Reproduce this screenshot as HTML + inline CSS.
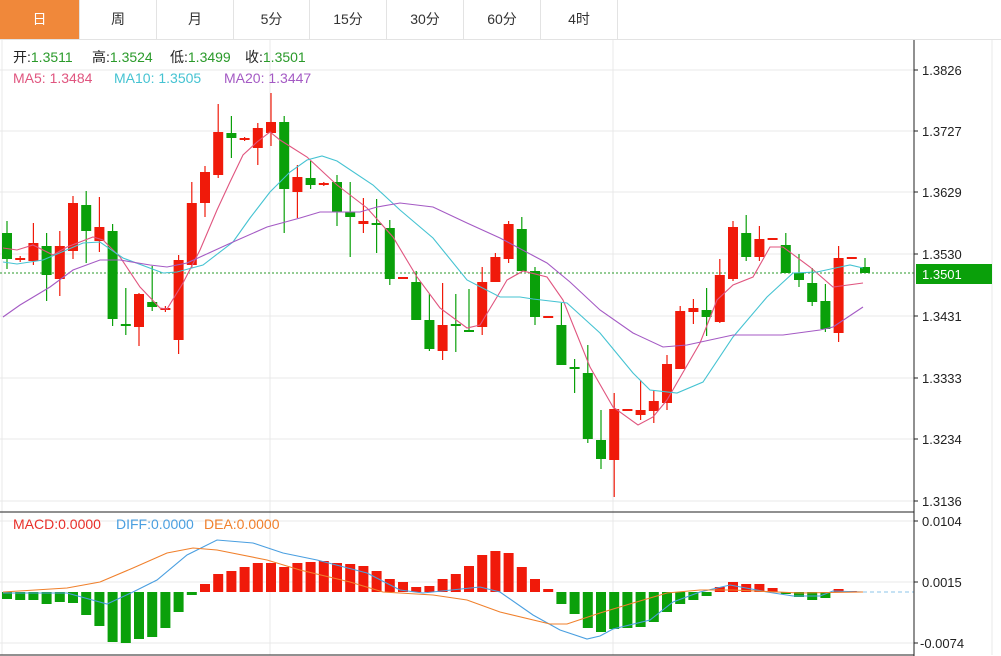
<!DOCTYPE html>
<html><head><meta charset="utf-8"><style>
body{margin:0;background:#fff;width:1001px;height:656px;overflow:hidden;font-family:"Liberation Sans","Noto Sans CJK SC",sans-serif}
.tabs{position:absolute;left:0;top:0;height:39px;width:1001px;border-bottom:1px solid #e3e3e3}
.tab{position:absolute;top:0;height:39px;line-height:39px;text-align:center;font-size:14px;color:#333;border-right:1px solid #e3e3e3;box-sizing:border-box}
</style></head><body>
<div class="tabs">
<div class="tab" style="left:0;width:80px;background:#f0883a;color:#fff">日</div>
<div class="tab" style="left:80px;width:77px">周</div>
<div class="tab" style="left:157px;width:77px">月</div>
<div class="tab" style="left:234px;width:76px">5分</div>
<div class="tab" style="left:310px;width:77px">15分</div>
<div class="tab" style="left:387px;width:77px">30分</div>
<div class="tab" style="left:464px;width:77px">60分</div>
<div class="tab" style="left:541px;width:77px">4时</div>
</div>
<svg id="s" width="1001" height="656" style="position:absolute;left:0;top:0" xmlns="http://www.w3.org/2000/svg" font-family="Liberation Sans, Noto Sans CJK SC, sans-serif">
<g stroke="#e8e8e8" stroke-width="1">
<line x1="0" y1="70" x2="914" y2="70"/><line x1="0" y1="131" x2="914" y2="131"/><line x1="0" y1="192" x2="914" y2="192"/><line x1="0" y1="254" x2="914" y2="254"/><line x1="0" y1="316" x2="914" y2="316"/><line x1="0" y1="378" x2="914" y2="378"/><line x1="0" y1="439" x2="914" y2="439"/><line x1="0" y1="501" x2="914" y2="501"/>
<line x1="0" y1="521" x2="914" y2="521"/><line x1="0" y1="582" x2="914" y2="582"/><line x1="0" y1="643" x2="914" y2="643"/>
<line x1="270" y1="40" x2="270" y2="655"/><line x1="613" y1="40" x2="613" y2="655"/>
<line x1="2" y1="40" x2="2" y2="655"/><line x1="992" y1="40" x2="992" y2="655"/>
</g>
<line x1="0" y1="273" x2="914" y2="273" stroke="#2a9a2a" stroke-dasharray="2,2"/>
<g id="cand"></g>
<g id="bars"></g>
<g fill="none" stroke-width="1.1">
<polyline stroke="#e0557f" points="3,248 17,250 33,245 53,255 67,247 93,237 103,240 120,257 140,287 160,308 167,309 183,283 200,250 217,210 230,182 243,155 257,142 270,132 280,140 307,157 323,172 337,185 367,208 393,237 417,277 440,308 467,328 480,325 500,292 507,280 523,271 547,277 563,300 590,367 613,407 638,425 653,417 667,400 700,343 717,300 733,285 753,277 770,247 783,247 810,267 833,287 863,283"/>
<polyline stroke="#45c3d2" points="3,262 17,264 43,260 83,243 100,242 123,258 163,273 177,272 203,265 233,242 250,218 270,192 290,172 307,160 322,156 337,161 373,185 400,210 433,238 467,280 500,297 520,297 533,299 567,303 600,333 633,373 650,390 677,393 703,382 733,337 767,297 793,273 817,272 840,267 850,265 863,268"/>
<polyline stroke="#a45ac4" points="3,317 20,305 50,287 73,270 100,260 120,260 150,265 167,267 187,263 233,242 267,227 300,218 320,212 360,212 377,207 400,203 433,207 467,223 500,238 547,263 570,282 600,310 633,333 663,347 687,345 733,335 783,335 820,330 833,327 863,307"/>
<polyline stroke="#4a9fe0" points="3,593 67,593 107,604 133,592 157,580 187,555 217,540 253,543 283,553 317,560 367,573 400,590 423,593 480,587 500,592 533,615 560,630 587,639 600,636 613,629 650,620 673,602 700,592 730,585 767,592 793,596 820,596 833,591 863,592"/>
<polyline stroke="#f0802c" points="3,592 67,588 100,582 133,568 167,553 193,548 217,550 267,560 300,570 350,582 383,592 433,595 467,600 500,612 550,624 567,624 600,613 633,603 667,593 700,590 733,590 800,593 863,592"/>
</g>
<line x1="863" y1="592" x2="914" y2="592" stroke="#8ec4e8" stroke-dasharray="4,3"/>
<line x1="0" y1="512" x2="914" y2="512" stroke="#222"/>
<line x1="0" y1="655" x2="914" y2="655" stroke="#222"/>
<line x1="914" y1="40" x2="914" y2="656" stroke="#222"/>
<g stroke="#222"><line x1="914" y1="70" x2="918" y2="70"/><line x1="914" y1="131" x2="918" y2="131"/><line x1="914" y1="192" x2="918" y2="192"/><line x1="914" y1="254" x2="918" y2="254"/><line x1="914" y1="316" x2="918" y2="316"/><line x1="914" y1="378" x2="918" y2="378"/><line x1="914" y1="439" x2="918" y2="439"/><line x1="914" y1="501" x2="918" y2="501"/><line x1="914" y1="521" x2="918" y2="521"/><line x1="914" y1="582" x2="918" y2="582"/><line x1="914" y1="643" x2="918" y2="643"/></g>
<g font-size="13" fill="#222">
<text x="922" y="75">1.3826</text><text x="922" y="136">1.3727</text><text x="922" y="197">1.3629</text><text x="922" y="259">1.3530</text><text x="922" y="321">1.3431</text><text x="922" y="383">1.3333</text><text x="922" y="444">1.3234</text><text x="922" y="506">1.3136</text>
<text x="922" y="526">0.0104</text><text x="922" y="587">0.0015</text><text x="920" y="648">-0.0074</text>
</g>
<rect x="916" y="264" width="76" height="20" fill="#0aa00a"/>
<text x="922" y="279" font-size="13" fill="#fff">1.3501</text>
<g font-size="14">
<text x="13" y="62" fill="#222">开:<tspan fill="#2a9a2a">1.3511</tspan></text>
<text x="92" y="62" fill="#222">高:<tspan fill="#2a9a2a">1.3524</tspan></text>
<text x="170" y="62" fill="#222">低:<tspan fill="#2a9a2a">1.3499</tspan></text>
<text x="245" y="62" fill="#222">收:<tspan fill="#2a9a2a">1.3501</tspan></text>
<text x="13" y="83" fill="#e0557f">MA5: 1.3484</text><text x="114" y="83" fill="#45c3d2">MA10: 1.3505</text><text x="224" y="83" fill="#a45ac4">MA20: 1.3447</text>
<text x="13" y="529" fill="#e8302a">MACD:0.0000</text><text x="116" y="529" fill="#4a9fe0">DIFF:0.0000</text><text x="204" y="529" fill="#f0802c">DEA:0.0000</text>
</g>
</svg>
<script>
var C=[['g',233,259,221,269],['r',258,260,256,262],['r',243,261,223,265],['g',246,275,233,301],['r',246,279,231,296],['r',203,251,196,259],['g',205,231,191,263],['r',227,241,197,252],['g',231,319,224,326],['g',324,326,288,335],['r',294,327,293,346],['g',302,307,266,311],['r',308,310,306,312],['r',260,340,255,354],['r',203,265,182,268],['r',172,203,166,217],['r',132,175,104,178],['g',133,138,116,158],['r',138,140,137,141],['r',128,148,123,165],['r',122,133,93,146],['g',122,189,116,233],['r',177,192,165,218],['g',178,185,161,189],['r',183,185,182,186],['g',182,212,175,226],['g',212,217,182,257],['r',221,224,198,233],['g',223,225,199,253],['g',228,279,220,285],['r',277,279,277,279],['g',282,320,271,320],['g',320,349,294,351],['r',325,351,283,360],['g',324,326,294,352],['g',330,332,289,332],['r',282,327,267,335],['r',257,282,253,282],['r',224,259,221,263],['g',229,271,217,271],['g',271,317,267,325],['r',316,318,316,318],['g',325,365,303,365],['g',367,369,359,393],['g',373,439,345,443],['g',440,459,410,469],['r',409,460,393,497],['r',409,411,409,411],['r',410,415,380,420],['r',401,411,390,423],['r',364,403,355,410],['r',311,369,306,369],['r',308,312,299,324],['g',310,317,288,336],['r',275,322,259,323],['r',227,279,221,281],['g',233,257,215,261],['r',239,257,226,261],['r',238,240,238,240],['g',245,273,233,273],['g',273,280,254,287],['g',283,302,268,306],['g',301,329,284,332],['r',258,333,246,342],['r',257,259,257,259],['g',267,273,258,273]];
var B=[599,600,600,604,602,603,615,626,642,643,639,637,628,612,595,584,574,571,567,563,563,567,563,562,561,563,564,566,571,579,582,587,586,579,574,566,555,551,553,567,579,589,604,614,628,632,629,628,627,622,612,604,600,596,587,582,584,584,588,594,597,600,598,589,591];
var s="";
C.forEach(function(c,i){var x=7+i*13.2,col=c[0]=='r'?'#f01a0a':'#0aa00a';
s+='<line x1="'+x+'" y1="'+c[3]+'" x2="'+x+'" y2="'+c[4]+'" stroke="'+col+'" stroke-width="1.2"/>';
var h=Math.max(2,c[2]-c[1]);s+='<rect x="'+(x-5)+'" y="'+c[1]+'" width="10" height="'+h+'" fill="'+col+'"/>';});
document.getElementById('cand').innerHTML=s;s="";
B.forEach(function(v,i){var x=7+i*13.2,up=v<592,col=up?'#f01a0a':'#0aa00a';var y=up?v:592,h=Math.abs(v-592);if(h<1)h=1;
s+='<rect x="'+(x-5)+'" y="'+y+'" width="10" height="'+h+'" fill="'+col+'"/>';});
document.getElementById('bars').innerHTML=s;
</script>
</body></html>
